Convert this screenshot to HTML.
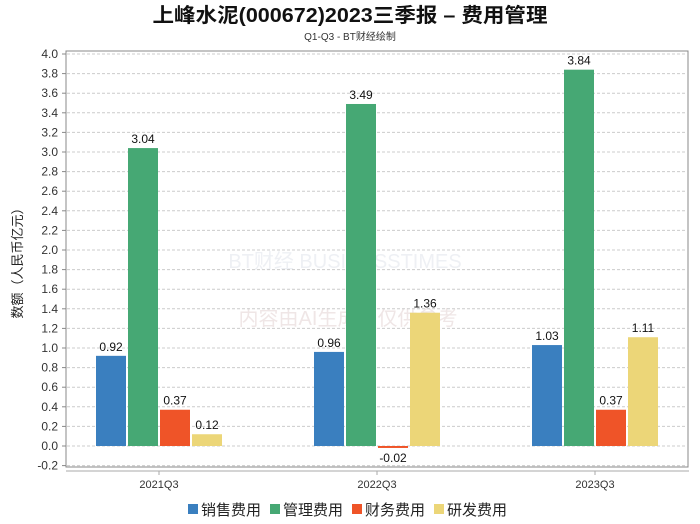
<!DOCTYPE html>
<html><head><meta charset="utf-8">
<style>
body{margin:0;background:#fff;}
svg{display:block;font-family:"Liberation Sans","Noto Sans CJK SC",sans-serif;}
</style></head>
<body>
<svg id="chart" width="700" height="524" viewBox="0 0 700 524">
<text x="350" y="22" text-anchor="middle" font-size="20" font-weight="bold" fill="#111" textLength="395" lengthAdjust="spacingAndGlyphs">上峰水泥(000672)2023三季报 – 费用管理</text>
<text x="350" y="40" text-anchor="middle" font-size="10" fill="#333">Q1-Q3 - BT财经绘制</text>
<text x="345" y="268" text-anchor="middle" font-size="20" fill="#eef0f4">BT财经 BUSINESSTIMES</text>
<text x="348" y="325" text-anchor="middle" font-size="20" fill="#efe6e6">内容由AI生成，仅供参考</text>
<rect x="66" y="51" width="622" height="416" fill="none" stroke="#888" stroke-width="1"/>
<line x1="66" y1="471" x2="689" y2="471" stroke="#aaa"/>
<text transform="translate(22,260) rotate(-90)" text-anchor="middle" font-size="13" fill="#222">数额（人民币亿元）</text>
<g id="grid"></g><g id="bars"></g><g id="labels"></g>
<g id="legend" font-size="15" fill="#222"></g>
</svg>
<script>
const categories=["2021Q3","2022Q3","2023Q3"];
const seriesNames=["销售费用","管理费用","财务费用","研发费用"];
const colors=["#3a7fbf","#46a874","#ef5428","#ecd678"];
const sales=[0.92,0.96,1.03];
const admin=[3.04,3.49,3.84];
const finance=[0.37,-0.02,0.37];
const rnd=[0.12,1.36,1.11];
const yTicks=[-0.2,0,0.2,0.4,0.6,0.8,1.0,1.2,1.4,1.6,1.8,2.0,2.2,2.4,2.6,2.8,3.0,3.2,3.4,3.6,3.8,4.0];
const series=[sales,admin,finance,rnd];
const NS="http://www.w3.org/2000/svg";
const y=v=>446-v*98;
const xc=i=>159+i*218;
function mk(tag,attrs,parent,text){const e=document.createElementNS(NS,tag);for(const k in attrs)e.setAttribute(k,attrs[k]);if(text!==undefined)e.textContent=text;parent.appendChild(e);return e;}
const grid=document.getElementById('grid'),bars=document.getElementById('bars'),labels=document.getElementById('labels'),legend=document.getElementById('legend');
yTicks.forEach(t=>{
 const l=mk('line',{x1:67,x2:687,y1:y(t),y2:y(t),stroke:'#ccc','stroke-dasharray':'3,2'},grid);
 
 
 const tk=mk('line',{x1:62,x2:66,y1:y(t),y2:y(t),stroke:'#888'},grid);
 
 
 const tx=mk('text',{x:58,y:y(t)+4,'text-anchor':'end','font-size':12,fill:'#333'},grid,t.toFixed(1));
 
 
});
categories.forEach((c,i)=>{
 const tk=mk('line',{x1:xc(i),x2:xc(i),y1:471,y2:475,stroke:'#aaa'},grid);
 
 
 const tx=mk('text',{x:xc(i),y:488,'text-anchor':'middle','font-size':11,fill:'#333'},grid,c);
 
 
 series.forEach((s,j)=>{
  const v=s[i];const x0=xc(i)-63+j*32;
  const top=Math.min(y(v),y(0)),h=Math.max(Math.abs(y(v)-y(0)),1);
  const r=mk('rect',{x:x0,y:top,width:30,height:h,fill:colors[j]},bars);
  
  
  const ly=v>=0?y(v)-5:y(0)+16;
  const lt=mk('text',{x:x0+15,y:ly,'text-anchor':'middle','font-size':12,fill:'#111'},labels,v.toFixed(2));
  
  
 });
});
const lx=[188,270,352,434];
seriesNames.forEach((n,j)=>{
 const r=mk('rect',{x:lx[j],y:504,width:10,height:10,fill:colors[j]},legend);
 
 
 const t=mk('text',{x:lx[j]+13,y:515},legend,n);
 
 
});
</script>
</body></html>
